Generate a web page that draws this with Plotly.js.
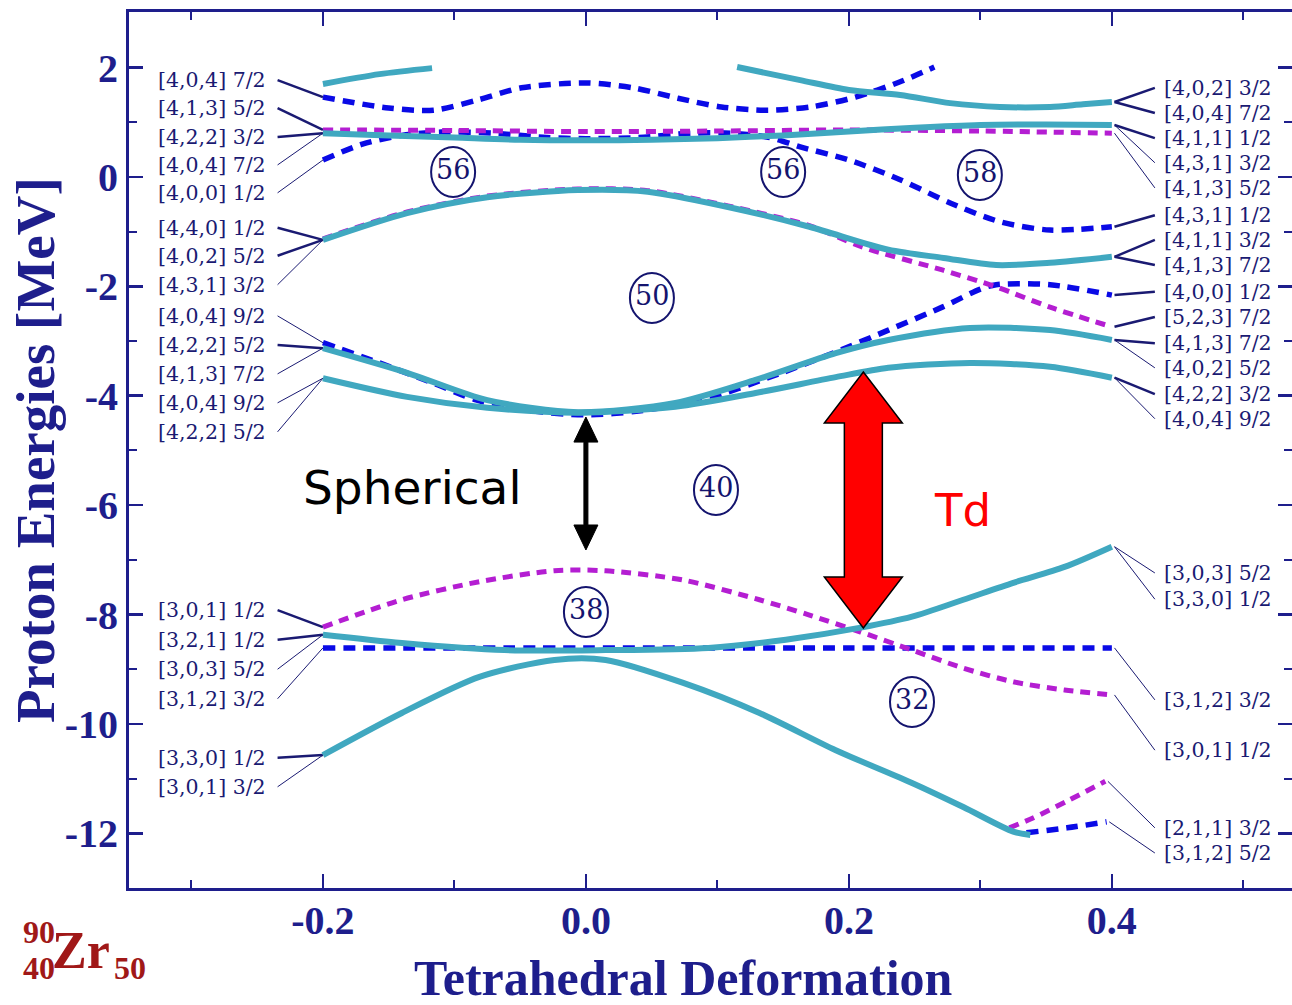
<!DOCTYPE html>
<html><head><meta charset="utf-8">
<script src="https://cdn.plot.ly/plotly-3.0.1.min.js"></script>
<style>html,body{margin:0;padding:0;background:#fff}#chart{width:1292px;height:1005px}</style>
</head><body><div id="chart"></div>
<script>
// ---------------- DATA ----------------
// Tetrahedral deformation (x) vs proton single-particle energies in MeV (y)
const cyanA_x = [-0.2, -0.157, -0.117];
const cyanA_y = [1.70, 1.88, 1.99];
const cyanB_x = [0.115, 0.163, 0.2, 0.239, 0.277, 0.315, 0.353, 0.378, 0.4];
const cyanB_y = [2.01, 1.77, 1.59, 1.50, 1.35, 1.28, 1.28, 1.33, 1.37];
const blueC_x = [-0.2, -0.15, -0.116, -0.082, -0.049, 0.0, 0.036, 0.07, 0.103, 0.138, 0.171, 0.205, 0.239, 0.265];
const blueC_y = [1.46, 1.26, 1.22, 1.41, 1.63, 1.72, 1.63, 1.44, 1.28, 1.22, 1.28, 1.46, 1.74, 2.01];
const cyanD_x = [-0.2, -0.15, -0.1, -0.05, 0.0, 0.05, 0.1, 0.15, 0.2, 0.25, 0.3, 0.35, 0.4];
const cyanD_y = [0.80, 0.76, 0.72, 0.68, 0.67, 0.68, 0.71, 0.76, 0.83, 0.90, 0.95, 0.96, 0.95];
const magE_x = [-0.2, -0.1, 0.0, 0.1, 0.2, 0.3, 0.4];
const magE_y = [0.86, 0.85, 0.83, 0.84, 0.86, 0.84, 0.80];
const blueF_x = [-0.2, -0.17, -0.14, -0.11, -0.07, -0.03, 0.0, 0.04, 0.08, 0.11, 0.14, 0.163, 0.2, 0.239, 0.277, 0.315, 0.353, 0.4];
const blueF_y = [0.31, 0.60, 0.76, 0.82, 0.80, 0.72, 0.70, 0.72, 0.80, 0.80, 0.72, 0.55, 0.31, -0.05, -0.475, -0.82, -0.97, -0.91];
const cyanG_x = [-0.2, -0.136, -0.075, -0.006, 0.047, 0.108, 0.17, 0.23, 0.272, 0.312, 0.353, 0.4];
const cyanG_y = [-1.15, -0.66, -0.37, -0.24, -0.27, -0.55, -0.91, -1.33, -1.48, -1.61, -1.57, -1.46];
const magH_x = [-0.2, -0.136, -0.075, -0.006, 0.047, 0.108, 0.17, 0.21, 0.271, 0.312, 0.353, 0.4];
const magH_y = [-1.13, -0.64, -0.35, -0.22, -0.25, -0.53, -0.89, -1.28, -1.70, -2.01, -2.38, -2.74];
const blueI_x = [-0.2, -0.157, -0.116, -0.083, -0.04, 0.0, 0.04, 0.088, 0.149, 0.19, 0.23, 0.271, 0.3, 0.312, 0.353, 0.4];
const blueI_y = [-3.03, -3.40, -3.77, -4.08, -4.28, -4.35, -4.28, -4.08, -3.58, -3.20, -2.80, -2.38, -2.05, -1.97, -1.97, -2.16];
const cyanJ_x = [-0.2, -0.136, -0.075, -0.006, 0.068, 0.129, 0.19, 0.23, 0.292, 0.353, 0.4];
const cyanJ_y = [-3.13, -3.58, -4.08, -4.30, -4.13, -3.71, -3.22, -2.98, -2.76, -2.80, -2.98];
const cyanK_x = [-0.2, -0.136, -0.075, -0.006, 0.068, 0.129, 0.19, 0.23, 0.292, 0.353, 0.4];
const cyanK_y = [-3.68, -4.02, -4.22, -4.31, -4.20, -3.95, -3.66, -3.49, -3.40, -3.47, -3.67];
const magL_x = [-0.2, -0.14, -0.081, -0.024, 0.015, 0.074, 0.132, 0.17, 0.209, 0.248, 0.287, 0.325, 0.364, 0.4];
const magL_y = [-8.23, -7.73, -7.40, -7.20, -7.20, -7.37, -7.73, -8.01, -8.32, -8.65, -8.98, -9.23, -9.38, -9.47];
const cyanM_x = [-0.2, -0.14, -0.062, 0.015, 0.093, 0.152, 0.209, 0.248, 0.287, 0.325, 0.364, 0.4];
const cyanM_y = [-8.37, -8.52, -8.65, -8.65, -8.61, -8.46, -8.24, -8.04, -7.73, -7.42, -7.13, -6.76];
const blueN_x = [-0.2, 0.0, 0.2, 0.4];
const blueN_y = [-8.61, -8.61, -8.61, -8.61];
const cyanO_x = [-0.2, -0.14, -0.081, -0.024, 0.015, 0.074, 0.132, 0.19, 0.248, 0.287, 0.325, 0.338];
const cyanO_y = [-10.57, -9.80, -9.14, -8.83, -8.83, -9.25, -9.80, -10.48, -11.08, -11.52, -11.97, -12.03];
const magP_x = [0.322, 0.34, 0.366, 0.395];
const magP_y = [-11.90, -11.72, -11.41, -11.05];
const blueQ_x = [0.335, 0.366, 0.396];
const blueQ_y = [-11.99, -11.90, -11.79];

// Nilsson labels (left side at deformation -0.2, right side at 0.4)
const leftLabels = ['[4,0,4] 7/2','[4,1,3] 5/2','[4,2,2] 3/2','[4,0,4] 7/2','[4,0,0] 1/2',
  '[4,4,0] 1/2','[4,0,2] 5/2','[4,3,1] 3/2','[4,0,4] 9/2','[4,2,2] 5/2','[4,1,3] 7/2',
  '[4,0,4] 9/2','[4,2,2] 5/2','[3,0,1] 1/2','[3,2,1] 1/2','[3,0,3] 5/2','[3,1,2] 3/2',
  '[3,3,0] 1/2','[3,0,1] 3/2'];
const leftLabelE = [1.77, 1.26, 0.73, 0.22, -0.29, -0.93, -1.44, -1.97, -2.54, -3.07, -3.60,
  -4.13, -4.66, -7.92, -8.46, -9.00, -9.54, -10.62, -11.15];
const leftTarget = ['C','E','D','D','F','G','G','G','I','J','J','K','K','L','M','M','N','O','O'];
const leftBold = [1,1,1,0,0,1,1,0,0,1,0,0,0,1,1,0,0,1,0];

const rightLabels = ['[4,0,2] 3/2','[4,0,4] 7/2','[4,1,1] 1/2','[4,3,1] 3/2','[4,1,3] 5/2',
  '[4,3,1] 1/2','[4,1,1] 3/2','[4,1,3] 7/2','[4,0,0] 1/2','[5,2,3] 7/2','[4,1,3] 7/2',
  '[4,0,2] 5/2','[4,2,2] 3/2','[4,0,4] 9/2','[3,0,3] 5/2','[3,3,0] 1/2','[3,1,2] 3/2',
  '[3,0,1] 1/2','[2,1,1] 3/2','[3,1,2] 5/2'];
const rightLabelE = [1.63, 1.17, 0.71, 0.26, -0.20, -0.70, -1.15, -1.61, -2.10, -2.56, -3.04,
  -3.49, -3.97, -4.42, -7.24, -7.72, -9.56, -10.48, -11.90, -12.36];
const rightTarget = ['B','B','D','D','E','F','G','G','I','H','J','J','K','K','M','M','N','L','P','Q'];
const rightBold = [1,1,1,0,0,1,1,1,1,1,1,0,1,0,0,0,0,0,0,0];

// Shell gaps (particle numbers in circles)
const gapX = [-0.101, 0.150, 0.2996, 0.0502, 0.0989, 0.0, 0.248];
const gapY = [0.091, 0.091, 0.037, -2.212, -5.722, -7.952, -9.598];
const gapLabel = ['56', '56', '58', '50', '40', '38', '32'];

// Gap arrows: spherical (x=0) and tetrahedral (x≈0.21)
const sphArrow = {x: 0.0, top: -4.39, bottom: -6.82};
const tdArrow = {x: 0.211, top: -3.565, bottom: -8.245};

const xTickVals = [-0.2, 0.0, 0.2, 0.4];
const xTickText = ['-0.2', '0.0', '0.2', '0.4'];
const yTickVals = [2, 0, -2, -4, -6, -8, -10, -12];
const yTickText = ['2', '0', '-2', '-4', '-6', '-8', '-10', '-12'];

// ---------------- BUILD ----------------
const NAVY = '#1e1e8c';
const LBL = '#1a1a72';
const CYAN = '#40a8c0';
const BLUE = '#0a0ae6';
const MAG = '#b41ed2';

const curves = {
  A: [cyanA_x, cyanA_y], B: [cyanB_x, cyanB_y], C: [blueC_x, blueC_y], D: [cyanD_x, cyanD_y],
  E: [magE_x, magE_y], F: [blueF_x, blueF_y], G: [cyanG_x, cyanG_y], H: [magH_x, magH_y],
  I: [blueI_x, blueI_y], J: [cyanJ_x, cyanJ_y], K: [cyanK_x, cyanK_y], L: [magL_x, magL_y],
  M: [cyanM_x, cyanM_y], N: [blueN_x, blueN_y], O: [cyanO_x, cyanO_y], P: [magP_x, magP_y],
  Q: [blueQ_x, blueQ_y]
};
function lineTrace(x, y, color, dash, width) {
  return {type: 'scatter', mode: 'lines', x: x, y: y, hoverinfo: 'skip', showlegend: false,
    line: {color: color, width: width, dash: dash, shape: 'spline', smoothing: 0.8}};
}
const traces = [];
// connectors
const thickX = [], thickY = [], thinX = [], thinY = [];
leftLabels.forEach((t, i) => {
  const c = curves[leftTarget[i]];
  const xs = leftBold[i] ? thickX : thinX, ys = leftBold[i] ? thickY : thinY;
  xs.push(-0.2345, c[0][0], null); ys.push(leftLabelE[i], c[1][0], null);
});
rightLabels.forEach((t, i) => {
  const c = curves[rightTarget[i]];
  const n = c[0].length - 1;
  const xs = rightBold[i] ? thickX : thinX, ys = rightBold[i] ? thickY : thinY;
  xs.push(c[0][n] + 0.002, 0.4327, null); ys.push(c[1][n], rightLabelE[i], null);
});
traces.push({type:'scatter', mode:'lines', x: thinX, y: thinY, hoverinfo:'skip', showlegend:false,
  line:{color: LBL, width: 1}});
traces.push({type:'scatter', mode:'lines', x: thickX, y: thickY, hoverinfo:'skip', showlegend:false,
  line:{color: LBL, width: 2.5}});

// dashed levels first, cyan on top
['C','F','I','N','Q'].forEach(k => traces.push(lineTrace(curves[k][0], curves[k][1], BLUE, '12px,8px', 5.5)));
['E','H','L','P'].forEach(k => traces.push(lineTrace(curves[k][0], curves[k][1], MAG, '10px,7px', 5)));
['A','B','D','G','J','K','M','O'].forEach(k => traces.push(lineTrace(curves[k][0], curves[k][1], CYAN, 'solid', 6)));

// arrows as shapes
function dblArrow(a, hw, sw, hh) {
  const x = a.x, t = a.top, b = a.bottom;
  return 'M ' + x + ',' + t + ' L ' + (x + hw) + ',' + (t - hh) + ' L ' + (x + sw) + ',' + (t - hh) +
    ' L ' + (x + sw) + ',' + (b + hh) + ' L ' + (x + hw) + ',' + (b + hh) + ' L ' + x + ',' + b +
    ' L ' + (x - hw) + ',' + (b + hh) + ' L ' + (x - sw) + ',' + (b + hh) + ' L ' + (x - sw) + ',' + (t - hh) +
    ' L ' + (x - hw) + ',' + (t - hh) + ' Z';
}
const pxX = 1 / 1315, pxY = 1 / 54.7;
const shapes = [
  {type:'path', xref:'x', yref:'y', path: dblArrow(sphArrow, 12 * pxX, 2 * pxX, 25 * pxY),
    fillcolor:'#000000', line:{color:'#000000', width:1}},
  {type:'path', xref:'x', yref:'y', path: dblArrow(tdArrow, 39 * pxX, 19 * pxX, 51 * pxY),
    fillcolor:'#ff0000', line:{color:'#000000', width:1.5}}
];
// shell gap ellipses (pixel-sized, anchored at the gap points)
gapX.forEach((gx, i) => shapes.push({type:'circle', xref:'x', yref:'y', xsizemode:'pixel', ysizemode:'pixel',
  xanchor: gx, yanchor: gapY[i], x0: -22, x1: 22, y0: -25, y1: 25,
  line:{color:'#14146e', width:2}, fillcolor:'rgba(0,0,0,0)'}));

const annotations = [];
// shell gap numbers
gapLabel.forEach((t, i) => annotations.push({x: gapX[i], y: gapY[i], xref:'x', yref:'y', text: t,
  showarrow:false, xanchor:'center', yanchor:'middle', yshift: 2,
  font:{family:'DejaVu Serif', size: 27, color:'#14146e'}}));
leftLabels.forEach((t, i) => annotations.push({x: -0.2418, y: leftLabelE[i], xref:'x', yref:'y',
  text: t, showarrow:false, xanchor:'right', yanchor:'middle',
  font:{family:'DejaVu Serif', size: 20.5, color: LBL}}));
rightLabels.forEach((t, i) => annotations.push({x: 0.438, y: rightLabelE[i], xref:'x', yref:'y',
  text: t, showarrow:false, xanchor:'left', yanchor:'middle',
  font:{family:'DejaVu Serif', size: 20.5, color: LBL}}));
annotations.push({x: -0.1323, y: -5.686, xref:'x', yref:'y', text:'Spherical', showarrow:false,
  font:{family:'DejaVu Sans', size: 47, color:'#000000'}});
annotations.push({x: 0.2867, y: -6.09, xref:'x', yref:'y', text:'Td', showarrow:false,
  font:{family:'DejaVu Sans', size: 45, color:'#ff0000'}});
// axis titles
annotations.push({x: -0.0808, y: 0.5, xref:'paper', yref:'paper', text:'Proton Energies [MeV]',
  textangle: -90, showarrow:false, xanchor:'center', yanchor:'middle',
  font:{family:'Liberation Serif', size: 55, color: NAVY, weight:'bold'}});
annotations.push({x: 0.4772, y: -0.1027, xref:'paper', yref:'paper', text:'Tetrahedral Deformation',
  showarrow:false, xanchor:'center', yanchor:'middle',
  font:{family:'Liberation Serif', size: 50, color: NAVY, weight:'bold'}});
// nucleus label
const ZR = '#a01818';
annotations.push({x: -0.0413, y: -0.0708, xref:'paper', yref:'paper', text:'Zr', showarrow:false,
  xanchor:'center', yanchor:'middle', font:{family:'Liberation Serif', size: 52, color: ZR, weight:'bold'}});
annotations.push({x: -0.0774, y: -0.0502, xref:'paper', yref:'paper', text:'90', showarrow:false,
  xanchor:'center', yanchor:'middle', font:{family:'Liberation Serif', size: 32, color: ZR, weight:'bold'}});
annotations.push({x: -0.0774, y: -0.0913, xref:'paper', yref:'paper', text:'40', showarrow:false,
  xanchor:'center', yanchor:'middle', font:{family:'Liberation Serif', size: 32, color: ZR, weight:'bold'}});
annotations.push({x: 0.0009, y: -0.0913, xref:'paper', yref:'paper', text:'50', showarrow:false,
  xanchor:'center', yanchor:'middle', font:{family:'Liberation Serif', size: 32, color: ZR, weight:'bold'}});

const axisCommon = {
  showgrid:false, zeroline:false, showline:true, linecolor: NAVY, linewidth: 3, mirror:'ticks',
  ticks:'inside', ticklen: 14, tickwidth: 2.5, tickcolor: NAVY,
  tickfont:{family:'Liberation Serif', size: 40, color: NAVY, weight:'bold'}
};
const layout = {
  width: 1292, height: 1005,
  margin: {l: 129, r: 0, t: 12, b: 117, pad: 0},
  paper_bgcolor:'#ffffff', plot_bgcolor:'#ffffff',
  showlegend:false,
  xaxis: Object.assign({}, axisCommon, {range:[-0.3475, 0.537], tickmode:'array',
    tickvals: xTickVals, ticktext: xTickText, ticklabelstandoff: -5,
    minor:{tickmode:'array', tickvals:[-0.3, -0.1, 0.1, 0.3, 0.5], ticks:'inside', ticklen: 8, tickwidth: 2, tickcolor: NAVY}}),
  yaxis: Object.assign({}, axisCommon, {range:[-13, 3.016], tickmode:'array',
    tickvals: yTickVals, ticktext: yTickText, ticklabelstandoff: 0,
    minor:{tickmode:'array', tickvals:[1, -1, -3, -5, -7, -9, -11], ticks:'inside', ticklen: 8, tickwidth: 2, tickcolor: NAVY}}),
  shapes: shapes,
  annotations: annotations
};
Plotly.newPlot('chart', traces, layout, {displayModeBar:false, staticPlot:true});
</script>
</body></html>
